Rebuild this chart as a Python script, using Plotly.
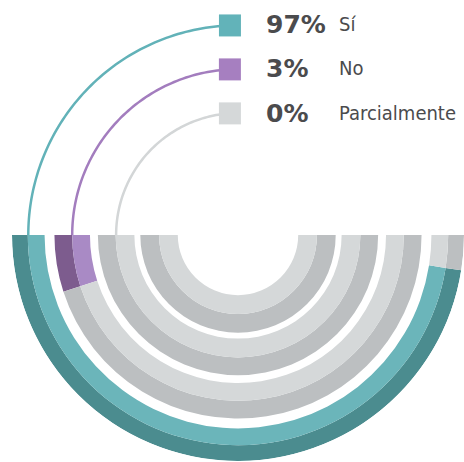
import numpy as np
import plotly.graph_objects as go

# ---- data ----
categories = ["Sí", "No", "Parcialmente"]
percent_values = [97, 3, 0]
percent_labels = ["97%", "3%", "0%"]
# share of the half-circle covered by the coloured arc, as drawn in the picture
arc_share = [95, 10, 0]

# ---- styling / geometry constants ----
W, H = 464, 462
CX, CY, RPX = 238, 235, 226   # pixel centre and pixel radius of the polar area
RMAX = 229                     # radial range (units)

# rings: (inner, split, outer) radius in radial units, outer -> inner
ring_geom = [(196, 213, 229), (150, 168, 186), (105, 124, 142)]
extra_ring = (61, 80, 99)   # innermost unlabeled track

dark_cols = ["#4b8c8f", "#7d5c8e", "#bcbfc1"]
light_cols = ["#6bb5ba", "#a98ac5", "#d5d8d9"]
track_dark, track_light = "#bcbfc1", "#d5d8d9"
line_cols = ["#62b2b8", "#a37dbe", "#d3d6d7"]
square_cols = ["#62b3b9", "#a67fc0", "#d5d8d9"]
end_theta = [92.2, 92.8, 93.8]

r_list, base_list, theta_list, width_list, col_list = [], [], [], [], []

def add_seg(inner, outer, start, span, color):
    if span <= 0:
        return
    r_list.append(outer - inner)
    base_list.append(inner)
    theta_list.append(start + span / 2)
    width_list.append(span)
    col_list.append(color)

for i, share in enumerate(arc_share):
    inner, split, outer = ring_geom[i]
    span = share / 100 * 180
    add_seg(split, outer, 180, span, dark_cols[i])
    add_seg(inner, split, 180, span, light_cols[i])
    add_seg(split, outer, 180 + span, 180 - span, track_dark)
    add_seg(inner, split, 180 + span, 180 - span, track_light)

inner, split, outer = extra_ring
add_seg(split, outer, 180, 180, track_dark)
add_seg(inner, split, 180, 180, track_light)

fig = go.Figure()
fig.add_trace(go.Barpolar(
    r=r_list, base=base_list, theta=theta_list, width=width_list,
    marker=dict(color=col_list, line=dict(width=0)),
    hoverinfo="skip", showlegend=False, subplot="polar"))

# connectors + legend squares
for i, cat in enumerate(categories):
    inner, split, outer = ring_geom[i]
    rm = (inner + outer) / 2
    th = np.linspace(180, end_theta[i], 80)
    fig.add_trace(go.Scatterpolar(
        r=[rm] * len(th), theta=th, mode="lines",
        line=dict(color=line_cols[i], width=2.5),
        hoverinfo="skip", showlegend=False, subplot="polar2"))
    fig.add_trace(go.Scatterpolar(
        r=[rm], theta=[end_theta[i]], mode="markers",
        marker=dict(symbol="square", size=22, color=square_cols[i], line=dict(width=0)),
        hoverinfo="skip", showlegend=False, subplot="polar2", cliponaxis=False))

label_y = [24, 68, 113]
for i, cat in enumerate(categories):
    fig.add_annotation(x=264 / W, y=1 - label_y[i] / H, xref="paper", yref="paper",
                       text="<b>%s</b>" % percent_labels[i], showarrow=False,
                       xanchor="left", yanchor="middle",
                       font=dict(family="DejaVu Sans", size=25, color="#4b4b4d"))
    fig.add_annotation(x=337 / W, y=1 - label_y[i] / H, xref="paper", yref="paper",
                       text=cat, showarrow=False, xanchor="left", yanchor="middle",
                       font=dict(family="DejaVu Sans Condensed, sans-serif",
                                 size=20, color="#4b4b4d"))

hidden_radial = dict(visible=False, range=[0, RMAX], showgrid=False, showline=False, showticklabels=False)
hidden_ang = dict(visible=False, showgrid=False, showline=False, showticklabels=False,
                  direction="counterclockwise", rotation=0)

fig.update_layout(
    width=W, height=H, margin=dict(l=0, r=0, t=0, b=0),
    paper_bgcolor="white", plot_bgcolor="white",
    polar=dict(domain=dict(x=[(CX - RPX) / W, (CX + RPX) / W], y=[(H - CY - RPX) / H, (H - CY) / H]),
               sector=[180, 360], bgcolor="rgba(0,0,0,0)", barmode="overlay",
               radialaxis=hidden_radial, angularaxis=hidden_ang),
    polar2=dict(domain=dict(x=[(CX - RPX) / W, CX / W], y=[(H - CY) / H, (H - CY + RPX) / H]),
                sector=[90, 180], bgcolor="rgba(0,0,0,0)",
                radialaxis=hidden_radial, angularaxis=hidden_ang),
)

fig.write_html("out.html", config={"displayModeBar": False},
               post_script="document.body.style.margin='0';")
